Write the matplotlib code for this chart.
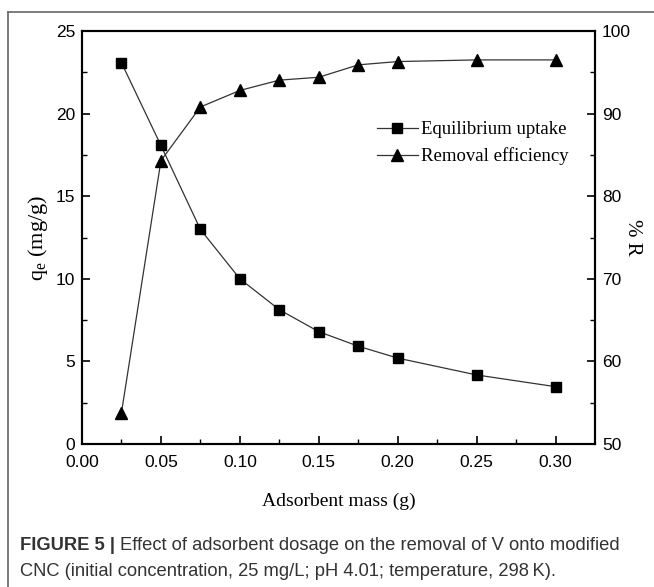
import numpy as np
import matplotlib.pyplot as plt
from matplotlib.lines import Line2D

# adsorbent mass (g)
mass = [0.025, 0.05, 0.075, 0.10, 0.125, 0.15, 0.175, 0.20, 0.25, 0.30]
# equilibrium uptake qe (mg/g)
qe = [23.08, 18.07, 12.99, 10.0, 8.13, 6.8, 5.92, 5.2, 4.18, 3.47]
# removal efficiency %R
removal = [53.8, 84.3, 90.8, 92.8, 94.05, 94.4, 95.9, 96.3, 96.5, 96.5]

xticks = [0.00, 0.05, 0.10, 0.15, 0.20, 0.25, 0.30]
xticklabels = ["0.00", "0.05", "0.10", "0.15", "0.20", "0.25", "0.30"]

serif = ["Liberation Serif", "DejaVu Serif"]
sans = ["Liberation Sans", "DejaVu Sans"]

fig = plt.figure(figsize=(6.54, 5.87), dpi=100)
ax = fig.add_axes([0.1254, 0.2436, 0.7844, 0.7036])
ax2 = ax.twinx()

lc = "#333333"
l1, = ax.plot(mass, qe, color=lc, lw=0.9, marker="s", ms=6.5, mfc="k", mec="k",
              label="Equilibrium uptake")
l2, = ax2.plot(mass, removal, color=lc, lw=0.9, marker="^", ms=8, mfc="k", mec="k",
               label="Removal efficiency")

ax.set_xlim(0, 0.325)
ax.set_ylim(0, 25)
ax2.set_ylim(50, 100)
ax.set_xticks(xticks)
ax.set_xticklabels(xticklabels)
ax.set_yticks([0, 5, 10, 15, 20, 25])
ax2.set_yticks([50, 60, 70, 80, 90, 100])
ax.set_xticks(np.arange(0.025, 0.325, 0.05), minor=True)
ax.set_yticks(np.arange(2.5, 25, 5), minor=True)
ax2.set_yticks(np.arange(55, 100, 10), minor=True)

ax.tick_params(axis="x", which="major", pad=8)
ax.tick_params(axis="both", which="major", direction="in", length=6, width=1.2,
               labelsize=12.5)
ax.tick_params(axis="y", which="major", pad=5)
ax.tick_params(axis="both", which="minor", direction="in", length=3.5, width=1)
ax2.tick_params(axis="y", which="major", direction="in", length=6, width=1.2,
                labelsize=12.5, pad=5)
ax2.tick_params(axis="y", which="minor", direction="in", length=3.5, width=1)
for a in (ax, ax2):
    for lab in a.get_xticklabels() + a.get_yticklabels():
        lab.set_family(sans)
    for s in a.spines.values():
        s.set_linewidth(1.5)

ax.set_xlabel("Adsorbent mass (g)", family=serif, fontsize=14, labelpad=16)
ax.set_ylabel("q$_\\mathregular{e}$ (mg/g)", family=serif, fontsize=16, labelpad=4)
ax2.set_ylabel("% R", family=serif, fontsize=15, rotation=270, labelpad=8)

leg = ax.legend([l1, l2], ["Equilibrium uptake", "Removal efficiency"],
                loc="upper left", bbox_to_anchor=(0.56, 0.80), frameon=False,
                prop={"family": serif, "size": 13.5}, handlelength=2.2,
                handletextpad=0.15, labelspacing=0.5, borderaxespad=0)

# outer frame (top and left edges)
fig.add_artist(Line2D([8 / 654, 1], [1 - 12 / 587, 1 - 12 / 587], color="#666666",
                      lw=1.2, transform=fig.transFigure))
fig.add_artist(Line2D([8 / 654, 8 / 654], [0, 1 - 12 / 587], color="#666666",
                      lw=1.2, transform=fig.transFigure))

# caption
renderer = fig.canvas.get_renderer()
bold = fig.text(20 / 654, 1 - 545 / 587, "FIGURE 5 | ", family=sans, fontsize=13.2,
                fontweight="bold", color="#333333", va="center")
bb = bold.get_window_extent(renderer=renderer)
fig.text(bb.x1 / fig.bbox.width, 1 - 545 / 587,
         "Effect of adsorbent dosage on the removal of V onto modified",
         family=sans, fontsize=13.2, color="#333333", va="center")
fig.text(20 / 654, 1 - 571 / 587,
         "CNC (initial concentration, 25 mg/L; pH 4.01; temperature, 298\u2009K).",
         family=sans, fontsize=13.2, color="#333333", va="center")

fig.savefig("out.png", dpi=100)
